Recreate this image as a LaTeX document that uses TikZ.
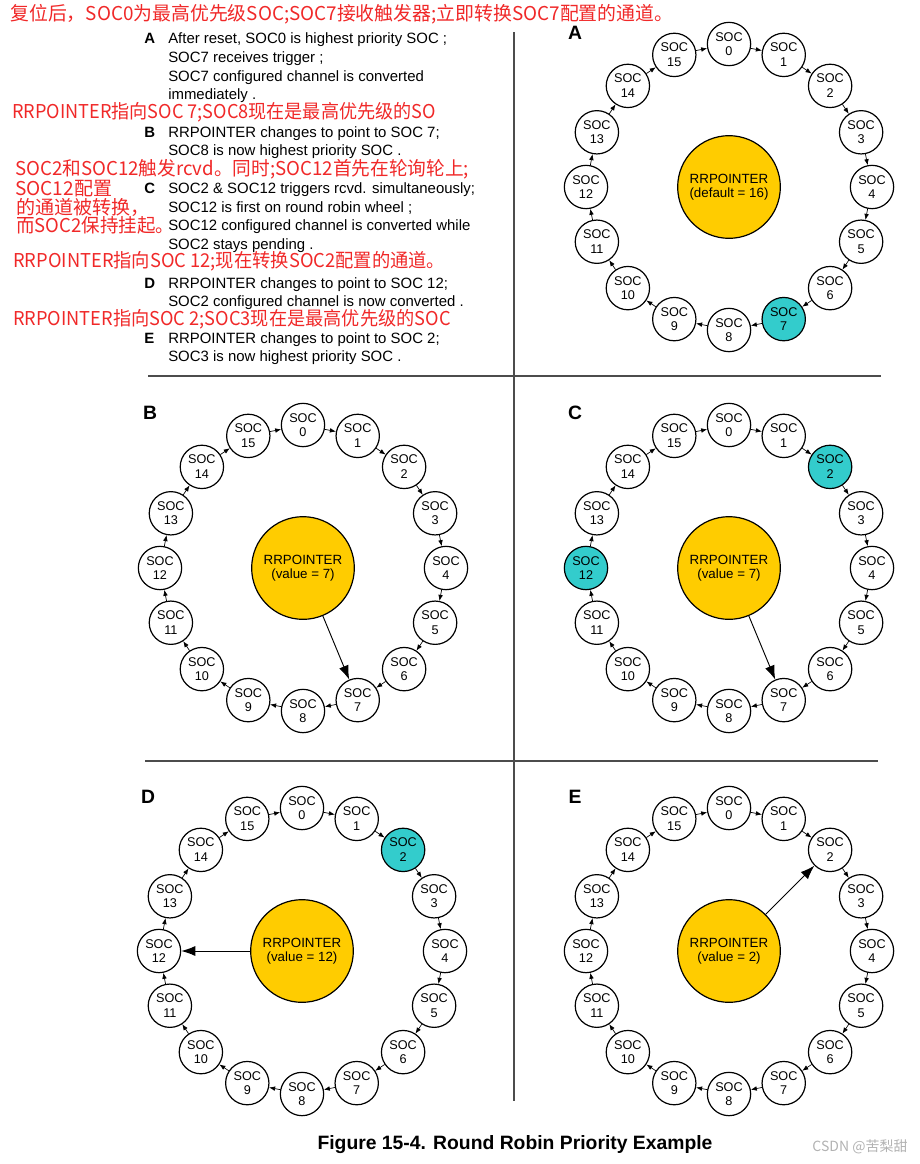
\documentclass[tikz,border=0pt]{standalone}
\usepackage{graphicx}
\usepackage{fontspec}
\setmainfont{Liberation Sans}
\newfontfamily\cjk{Noto Sans CJK SC}
\usetikzlibrary{arrows.meta,calc}

\definecolor{potC}{RGB}{255,204,0}
\definecolor{hitC}{RGB}{51,204,204}
\definecolor{noteC}{RGB}{240,40,40}

\tikzstyle{soc} = [draw, circle, line width=0.9pt, minimum size=32.5pt,
                   inner sep=0pt, align=center, font=\fontsize{9.5}{11}\selectfont]
\tikzstyle{pointer} = [draw, circle, line width=0.9pt, fill=potC, minimum size=77pt,
                       inner sep=0pt, align=center, font=\fontsize{10}{10.5}\selectfont]
\tikzstyle{ring} = [-{Latex[length=4.5pt,width=3.5pt]}, line width=0.5pt]
\tikzstyle{aim} = [-{Latex[length=10.5pt,width=7.5pt]}, line width=0.7pt]
\tikzstyle{note} = [anchor=base west, inner sep=0pt, noteC,
                    font=\cjk\fontsize{14.3}{16}\selectfont]
\tikzstyle{txt} = [anchor=base west, inner sep=0pt, font=\fontsize{11.2}{13}\selectfont]
\tikzstyle{tag} = [anchor=base west, inner sep=0pt, font=\bfseries\fontsize{11.2}{13}\selectfont]
\tikzstyle{panel} = [inner sep=0pt, font=\bfseries\fontsize{14.5}{16}\selectfont]
\tikzstyle{sep} = [line width=1.1pt, black!70]

% one round robin wheel: name, centre x, centre y, lit SOCs, pointer value
\newcommand{\rrwheel}[5]{%
  \coordinate (#1c) at (#2,#3);
  \node[pointer] (#1p) at (#1c) {RRPOINTER\\#5};
  \foreach \k in {0,...,15} {
    \def\socfill{white}
    \foreach \h in {#4} {\ifnum\h=\k\relax \gdef\socfill{hitC}\fi}
    \node[soc, fill=\socfill] (#1\k) at ($(#1c)+({-90+22.5*\k}:143)$) {SOC\\\k};
  }
  \foreach \k in {0,...,15} {
    \pgfmathtruncatemacro{\nxt}{mod(\k+1,16)}
    \draw[ring] (#1\k) -- (#1\nxt);
  }
}

\begin{document}
\begin{tikzpicture}[x=0.75pt, y=-0.75pt]

\useasboundingbox (0,0) rectangle (920,1164);

% notes
\node[note] (n0) at (10,20) {\scalebox{0.99}[1]{复位后，SOC0为最高优先级SOC;SOC7接收触发器;立即转换SOC7配置的通道。}};

\node[tag] (tagA) at (144,43) {A};
\node[txt] (a1) at (168,43) {After reset, SOC0 is highest priority SOC ;};
\node[txt] (a2) at (168,62) {SOC7 receives trigger ;};
\node[txt] (a3) at (168,81) {SOC7 configured channel is converted};
\node[txt] (a4) at (168,99) {immediately .};

\node[note] (n1) at (12,118) {\scalebox{0.95}[1]{RRPOINTER指向SOC 7;SOC8现在是最高优先级的SO}};

\node[tag] (tagB) at (144,137) {B};
\node[txt] (b1) at (168,137) {RRPOINTER changes to point to SOC 7;};
\node[txt] (b2) at (168,155) {SOC8 is now highest priority SOC .};

\node[note] (n2) at (15,175) {\scalebox{0.98}[1]{SOC2和SOC12触发rcvd。同时;SOC12首先在轮询轮上;}};
\node[note] (n3) at (15,195) {SOC12配置};
\node[note] (n4) at (16,214) {的通道被转换，};
\node[note] (n5) at (16,232) {\scalebox{0.97}[1]{而SOC2保持挂起。}};

\node[tag] (tagC) at (144,193) {C};
\node[txt] (c1) at (168,193) {SOC2 \& SOC12 triggers rcvd. simultaneously;};
\node[txt] (c2) at (168,212) {SOC12 is first on round robin wheel ;};
\node[txt] (c3) at (168,230) {SOC12 configured channel is converted while};
\node[txt] (c4) at (168,249) {SOC2 stays pending .};

\node[note] (n6) at (13,267) {\scalebox{0.96}[1]{RRPOINTER指向SOC 12;现在转换SOC2配置的通道。}};

\node[tag] (tagD) at (144,288) {D};
\node[txt] (d1) at (168,288) {RRPOINTER changes to point to SOC 12;};
\node[txt] (d2) at (168,306) {SOC2 configured channel is now converted .};

\node[note] (n7) at (13,325) {\scalebox{0.955}[1]{RRPOINTER指向SOC 2;SOC3现在是最高优先级的SOC}};

\node[tag] (tagE) at (144,343) {E};
\node[txt] (e1) at (168,343) {RRPOINTER changes to point to SOC 2;};
\node[txt] (e2) at (168,361) {SOC3 is now highest priority SOC .};

% separators
\draw[sep] (514,32) -- (514,1101);
\draw[sep] (148,376) -- (881,376);
\draw[sep] (145,761) -- (878,761);

% wheels
\rrwheel{A}{729}{187}{7}{(default = 16)}
\rrwheel{B}{303}{568}{-1}{(value = 7)}
\rrwheel{C}{729}{568}{2,12}{(value = 7)}
\rrwheel{D}{302}{951}{2}{(value = 12)}
\rrwheel{E}{729}{951}{-1}{(value = 2)}

\node[panel] (labA) at (575,33) {A};
\node[panel] (labB) at (150,413) {B};
\node[panel] (labC) at (575,413) {C};
\node[panel] (labD) at (148,797) {D};
\node[panel] (labE) at (575,797) {E};

\draw[aim] (Bp) -- (B7);
\draw[aim] (Cp) -- (C7);
\draw[aim] (Dp) -- (D12);
\draw[aim] (Ep) -- (E2);

% caption
\node[font=\bfseries\fontsize{14.5}{16}\selectfont] (cap) at (515,1145)
     {Figure 15-4. Round Robin Priority Example};
\node[font=\cjk\fontsize{10.5}{12}\selectfont, black!30] (mark) at (860,1147)
     {CSDN @苦梨甜};

\end{tikzpicture}
\end{document}
